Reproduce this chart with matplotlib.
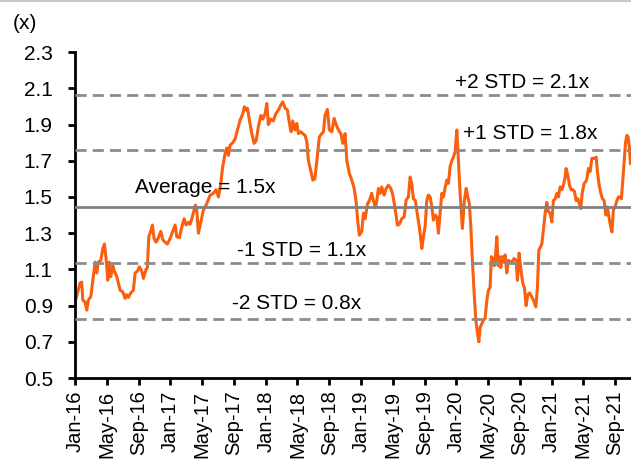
import matplotlib
matplotlib.use("Agg")
import matplotlib.pyplot as plt
from matplotlib.lines import Line2D

# ------------------------------------------------------------------
# Data (months since Jan-2016, P/B multiple)
# ------------------------------------------------------------------
months = [
    0.13, 0.63, 0.84, 0.97, 1.26, 1.47, 1.67, 1.98, 2.23, 2.52, 2.73, 2.93, 3.24, 3.49,
    3.69, 3.90, 4.12, 4.32, 4.50, 4.75, 4.95, 5.25, 5.67, 6.01, 6.30, 6.51, 6.71, 7.01,
    7.34, 7.56, 7.85, 8.10, 8.40, 8.60, 8.94, 9.10, 9.28, 9.53, 9.73, 9.95, 10.20, 10.49,
    10.79, 11.04, 11.33, 11.62, 11.96, 12.30, 12.59, 12.81, 13.13, 13.44, 13.73, 13.98,
    14.27, 14.48, 14.70, 14.99, 15.15, 15.33, 15.53, 16.16, 16.59, 17.00, 17.42, 17.76,
    18.05, 18.35, 18.55, 18.68, 18.89, 19.10, 19.31, 19.52, 19.86, 20.15, 20.44, 20.78,
    21.12, 21.32, 21.53, 21.70, 21.95, 22.25, 22.54, 22.79, 23.08, 23.39, 23.64, 23.93,
    24.14, 24.34, 24.64, 24.97, 25.27, 25.60, 25.90, 26.16, 26.45, 26.74, 26.99, 27.20,
    27.41, 27.67, 27.92, 28.12, 28.42, 28.67, 28.96, 29.18, 29.38, 29.68, 29.93, 30.19,
    30.44, 30.64, 30.76, 31.07, 31.27, 31.48, 31.77, 32.02, 32.33, 32.62, 32.87, 33.16,
    33.46, 33.71, 34.00, 34.22, 34.54, 34.84, 35.13, 35.39, 35.60, 35.80, 36.10, 36.31,
    36.52, 36.81, 37.06, 37.36, 37.56, 37.82, 37.99, 38.19, 38.41, 38.62, 38.91, 39.16,
    39.45, 39.76, 40.01, 40.30, 40.59, 40.84, 41.14, 41.43, 41.68, 41.97, 42.19, 42.40,
    42.60, 42.85, 43.11, 43.36, 43.66, 43.86, 44.08, 44.29, 44.49, 44.71, 44.92, 45.12,
    45.33, 45.55, 45.75, 45.96, 46.18, 46.38, 46.59, 46.81, 47.01, 47.22, 47.44, 47.64,
    47.85, 48.07, 48.27, 48.48, 48.77, 49.02, 49.24, 49.45, 49.65, 49.83, 50.03, 50.25,
    50.46, 50.66, 50.84, 51.00, 51.22, 51.42, 51.63, 51.85, 52.05, 52.26, 52.42, 52.60,
    52.77, 52.93, 53.11, 53.27, 53.43, 53.61, 53.77, 53.94, 54.15, 54.36, 54.57, 54.78,
    54.99, 55.28, 55.53, 55.70, 55.91, 56.13, 56.38, 56.58, 56.79, 57.01, 57.21, 57.42,
    57.71, 58.02, 58.22, 58.39, 58.56, 58.77, 58.97, 59.19, 59.40, 59.60, 59.82, 60.03,
    60.23, 60.45, 60.66, 60.86, 61.08, 61.29, 61.49, 61.71, 61.83, 62.04, 62.25, 62.46,
    62.68, 62.88, 63.09, 63.31, 63.51, 63.68, 63.85, 64.10, 64.31, 64.44, 64.64, 64.85,
    65.07, 65.27, 65.48, 65.61, 65.77, 65.99, 66.20, 66.40, 66.62, 66.83, 67.03, 67.25,
    67.41, 67.59, 67.79, 68.00, 68.22, 68.42, 68.63, 68.79, 68.97, 69.14, 69.30, 69.48,
    69.64, 69.80, 69.93,
]

multiple = [
    0.94, 1.025, 1.03, 0.93, 0.92, 0.875, 0.93, 0.95, 1.04, 1.14, 1.08, 1.14, 1.15, 1.215,
    1.24, 1.16, 1.04, 1.14, 1.06, 1.12, 1.09, 1.06, 0.985, 0.975, 0.94, 0.96, 0.945, 0.97,
    0.985, 1.08, 1.09, 1.114, 1.09, 1.05, 1.10, 1.11, 1.28, 1.31, 1.345, 1.27, 1.25, 1.275,
    1.31, 1.265, 1.25, 1.24, 1.27, 1.31, 1.345, 1.28, 1.275, 1.335, 1.38, 1.345,
    1.36, 1.35, 1.38, 1.427, 1.455, 1.42, 1.30, 1.427, 1.464, 1.51, 1.52, 1.54,
    1.50, 1.575, 1.657, 1.69, 1.74, 1.77, 1.73, 1.786, 1.80, 1.82, 1.87, 1.924,
    1.96, 1.998, 1.98, 1.99, 1.924, 1.85, 1.796, 1.81, 1.887, 1.95, 1.93, 1.96,
    2.016, 1.90, 1.93, 1.92, 1.96, 1.98, 2.007, 2.025, 1.99, 1.98, 1.906, 1.86,
    1.92, 1.87, 1.906, 1.85, 1.86, 1.85, 1.84, 1.805, 1.70, 1.645, 1.593, 1.60,
    1.70, 1.786, 1.832, 1.85, 1.86, 1.952, 1.983, 1.87, 1.86, 1.934, 1.90, 1.87,
    1.85, 1.796, 1.85, 1.70, 1.63, 1.593, 1.55, 1.473, 1.362, 1.289, 1.31, 1.41,
    1.38, 1.46, 1.48, 1.52, 1.48, 1.44, 1.48, 1.547, 1.52, 1.555, 1.51, 1.547,
    1.565, 1.547, 1.51, 1.436, 1.344, 1.35, 1.38, 1.39, 1.482, 1.50, 1.61, 1.57,
    1.49, 1.48, 1.40, 1.33, 1.215, 1.28, 1.34, 1.482, 1.51, 1.50, 1.445, 1.372,
    1.40, 1.39, 1.30, 1.41, 1.52, 1.50, 1.55, 1.593, 1.575, 1.667, 1.70, 1.72,
    1.75, 1.87, 1.70, 1.52, 1.326, 1.48, 1.547, 1.50, 1.46, 1.335, 1.15, 0.967,
    0.82, 0.75, 0.70, 0.78, 0.80, 0.82, 0.83, 0.93, 0.985, 1.0, 1.17, 1.16,
    1.12, 1.17, 1.28, 1.12, 1.17, 1.11, 1.17, 1.14, 1.18, 1.08, 1.15, 1.14,
    1.14, 1.16, 1.15, 1.04, 1.19, 1.10, 1.022, 1.00, 0.90, 0.96, 0.97, 0.955,
    0.93, 0.893, 1.0, 1.206, 1.22, 1.24, 1.317, 1.41, 1.47, 1.42, 1.41, 1.362,
    1.48, 1.49, 1.52, 1.50, 1.556, 1.54, 1.565, 1.61, 1.657, 1.62, 1.565, 1.54,
    1.54, 1.53, 1.48, 1.49, 1.46, 1.436, 1.52, 1.575, 1.585, 1.60, 1.657, 1.64,
    1.713, 1.713, 1.713, 1.72, 1.64, 1.565, 1.52, 1.49, 1.48, 1.40, 1.445, 1.38,
    1.344, 1.307, 1.43, 1.445, 1.48, 1.50, 1.50, 1.49, 1.593, 1.694, 1.796, 1.84,
    1.83, 1.77, 1.685,
]

average = 1.445
plus_1 = 1.759
plus_2 = 2.064
minus_1 = 1.136
minus_2 = 0.827

tick_months = list(range(0, 69, 4))
tick_labels = ["Jan-16", "May-16", "Sep-16", "Jan-17", "May-17", "Sep-17", "Jan-18",
               "May-18", "Sep-18", "Jan-19", "May-19", "Sep-19", "Jan-20", "May-20",
               "Sep-20", "Jan-21", "May-21", "Sep-21"]

# ------------------------------------------------------------------
# Plot
# ------------------------------------------------------------------
plt.rcParams["font.family"] = ["Liberation Sans", "DejaVu Sans"]
plt.rcParams["font.size"] = 15

fig = plt.figure(figsize=(6.31, 4.61), dpi=100)
ax = fig.add_axes([0.119, 0.18, 0.881, 0.707])

ax.plot(months, multiple, color="#fa5f0f", lw=2.2, zorder=2)

grey = "#8c8c8c"
ax.axhline(average, color="#808080", lw=2, zorder=3)
for lvl in (plus_2, plus_1, minus_1, minus_2):
    ax.axhline(lvl, color=grey, lw=2, ls=(0, (4, 2.2)), zorder=3)

ax.text(16.4, 1.553, "Average = 1.5x", ha="center", va="center")
ax.text(56.3, 2.134, "+2 STD = 2.1x", ha="center", va="center")
ax.text(57.3, 1.852, "+1 STD = 1.8x", ha="center", va="center")
ax.text(28.5, 1.206, "-1 STD = 1.1x", ha="center", va="center")
ax.text(27.9, 0.913, "-2 STD = 0.8x", ha="center", va="center")

ax.set_xlim(0, 70)
ax.set_ylim(0.5, 2.3)
ax.set_yticks([0.5 + 0.2 * i for i in range(10)])
ax.set_yticklabels([f"{0.5 + 0.2 * i:.1f}" for i in range(10)])
ax.set_xticks(tick_months)
ax.set_xticklabels(tick_labels, rotation=90, fontsize=14.5)

for side in ("top", "right"):
    ax.spines[side].set_visible(False)
for side in ("left", "bottom"):
    ax.spines[side].set_linewidth(2)
ax.tick_params(axis="y", length=5, width=2, pad=11)
ax.tick_params(axis="x", length=5, width=2, pad=4)

fig.text(0.04, 0.948, "(x)", ha="center", va="center")
fig.add_artist(Line2D([0, 1], [0.998, 0.998], color="#c8c8c8", lw=1.5,
                      transform=fig.transFigure))

fig.savefig("out.png", dpi=100)
